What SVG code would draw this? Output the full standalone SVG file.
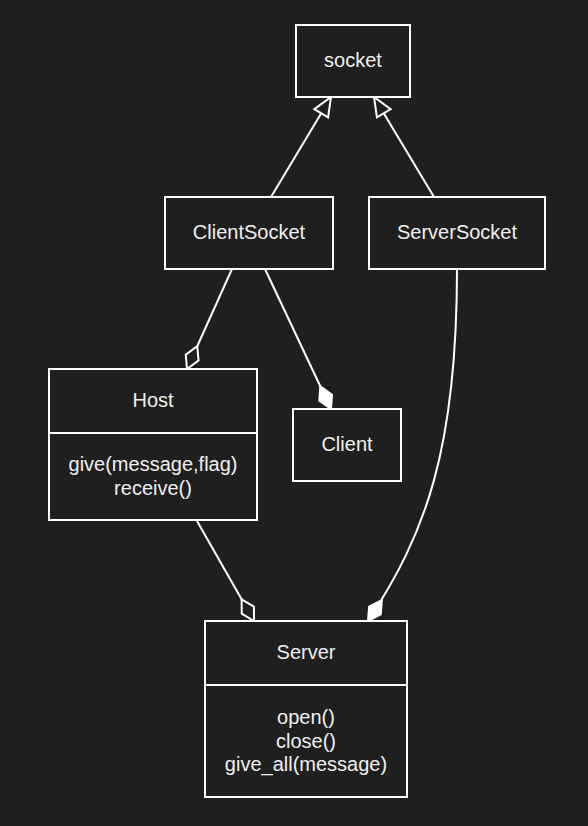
<svg xmlns="http://www.w3.org/2000/svg" width="588" height="826" viewBox="0 0 588 826">
<style>
.box{fill:#1f1f1f;stroke:#ffffff;stroke-width:2}
.t{font-family:"Liberation Sans",Arial,sans-serif;font-size:20px;fill:#f0f0f0;text-anchor:middle}
.c{fill:none;stroke:#ffffff;stroke-width:2}
</style>
<defs>
<marker id="tri" viewBox="0 0 22 20" refX="20" refY="10" markerWidth="22" markerHeight="20" orient="auto" markerUnits="userSpaceOnUse" overflow="visible">
<path d="M1,2 L20,10 L1,18 Z" fill="#1f1f1f" stroke="#ffffff" stroke-width="2"/>
</marker>
<marker id="odia" viewBox="0 0 28 18" refX="26" refY="9" markerWidth="28" markerHeight="18" orient="auto" markerUnits="userSpaceOnUse" overflow="visible">
<path d="M1,9 L13.5,2 L26,9 L13.5,16 Z" fill="#1f1f1f" stroke="#ffffff" stroke-width="2"/>
</marker>
<marker id="fdia" viewBox="0 0 28 18" refX="26" refY="9" markerWidth="28" markerHeight="18" orient="auto" markerUnits="userSpaceOnUse" overflow="visible">
<path d="M1,9 L13.5,2 L26,9 L13.5,16 Z" fill="#ffffff" stroke="#ffffff" stroke-width="2"/>
</marker>
</defs>
<rect width="588" height="826" fill="#1f1f1f"/>
<g id="connectors">
<line class="c" x1="271" y1="197" x2="331" y2="97" marker-end="url(#tri)"/>
<line class="c" x1="434" y1="197" x2="374" y2="97" marker-end="url(#tri)"/>
<line class="c" x1="232" y1="269" x2="187" y2="369" marker-end="url(#odia)"/>
<line class="c" x1="265" y1="269" x2="331" y2="409" marker-end="url(#fdia)"/>
<line class="c" x1="197" y1="521" x2="254" y2="621" marker-end="url(#odia)"/>
<path class="c" d="M457,269 C457,450 425,535 368,621" marker-end="url(#fdia)"/>
</g>
<g id="socket">
<rect class="box" x="296" y="25" width="114" height="72"/>
<text class="t" x="353" y="67">socket</text>
</g>
<g id="ClientSocket">
<rect class="box" x="165" y="197" width="168" height="72"/>
<text class="t" x="249" y="239">ClientSocket</text>
</g>
<g id="ServerSocket">
<rect class="box" x="369" y="197" width="176" height="72"/>
<text class="t" x="457" y="239">ServerSocket</text>
</g>
<g id="Host">
<rect class="box" x="49" y="369" width="208" height="151"/>
<line class="c" x1="49" y1="433" x2="257" y2="433"/>
<text class="t" x="153" y="407">Host</text>
<text class="t" x="153" y="471">give(message,flag)</text>
<text class="t" x="153" y="494.5">receive()</text>
</g>
<g id="Client">
<rect class="box" x="293" y="409" width="108" height="72"/>
<text class="t" x="347" y="451">Client</text>
</g>
<g id="Server">
<rect class="box" x="205" y="621" width="202" height="176"/>
<line class="c" x1="205" y1="685" x2="407" y2="685"/>
<text class="t" x="306" y="659">Server</text>
<text class="t" x="306" y="723.5">open()</text>
<text class="t" x="306" y="747.5">close()</text>
<text class="t" x="306" y="771">give_all(message)</text>
</g>
</svg>
